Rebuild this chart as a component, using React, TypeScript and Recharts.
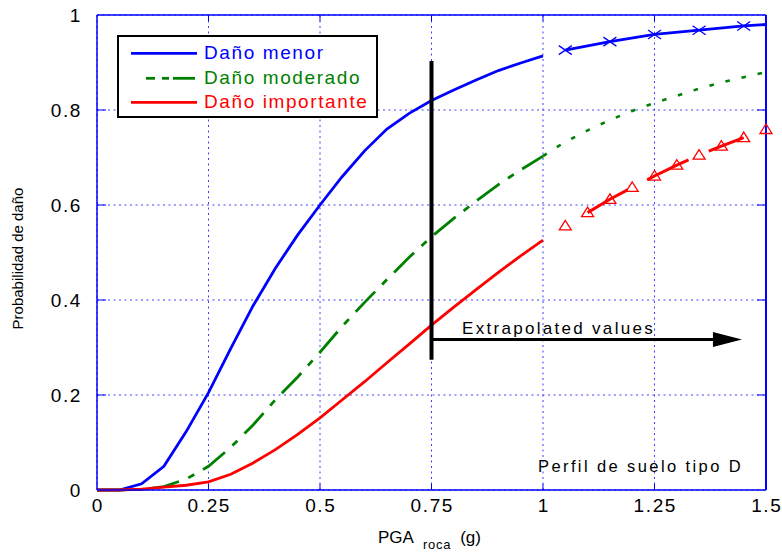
import React from 'react';
import { LineChart, Line, XAxis, YAxis, CartesianGrid, ReferenceLine, ReferenceDot } from 'recharts';

// ---- data ----
const pgaMain = [0, 0.05, 0.1, 0.15, 0.2, 0.25, 0.3, 0.35, 0.4, 0.45, 0.5, 0.55, 0.6, 0.65, 0.7, 0.75, 0.8, 0.85, 0.9, 0.95, 1.0];
const danoMenor = [0, 0, 0.013, 0.05, 0.123, 0.205, 0.298, 0.388, 0.467, 0.537, 0.6, 0.66, 0.714, 0.76, 0.793, 0.82, 0.842, 0.863, 0.883, 0.899, 0.914];
const danoModerado = [0, 0, 0.001, 0.007, 0.023, 0.05, 0.09, 0.137, 0.19, 0.238, 0.29, 0.345, 0.395, 0.443, 0.49, 0.533, 0.572, 0.608, 0.643, 0.674, 0.703];
const danoImportante = [0, 0, 0.002, 0.006, 0.01, 0.017, 0.033, 0.057, 0.085, 0.117, 0.152, 0.19, 0.228, 0.268, 0.307, 0.347, 0.385, 0.422, 0.458, 0.493, 0.526];

const pgaMenorExt = [1.05, 1.15, 1.25, 1.35, 1.45, 1.5];
const menorExt = [0.926, 0.944, 0.959, 0.968, 0.977, 0.98];
const pgaMenorMarks = [1.05, 1.15, 1.25, 1.35, 1.45];
const menorMarks = [0.926, 0.944, 0.959, 0.968, 0.977];

const pgaModExt = [1.0, 1.05, 1.1, 1.15, 1.2, 1.25, 1.3, 1.35, 1.4, 1.45, 1.5];
const moderadoExt = [0.703, 0.733, 0.757, 0.779, 0.798, 0.815, 0.83, 0.845, 0.858, 0.869, 0.88];

const pgaImpMarks = [1.05, 1.1, 1.15, 1.2, 1.25, 1.3, 1.35, 1.4, 1.45, 1.5];
const importanteMarks = [0.556, 0.584, 0.612, 0.637, 0.661, 0.684, 0.705, 0.724, 0.742, 0.759];
const pgaImpLine = [1.1, 1.15, 1.2, 1.25, 1.3, 1.35, 1.4, 1.45];
const importanteLine = [0.584, 0.612, 0.637, 0.661, 0.684, 0.705, 0.724, 0.742];

const xTicks = [0, 0.25, 0.5, 0.75, 1, 1.25, 1.5];
const yTicks = [0, 0.2, 0.4, 0.6, 0.8, 1];
const xInner = [0.25, 0.5, 0.75, 1, 1.25];
const yInner = [0.2, 0.4, 0.6, 0.8];

const legendItems = ['Daño menor', 'Daño moderado', 'Daño importante'];

const rows = (xs: number[], ys: number[]) => xs.map((x, i) => ({ x, y: ys[i] }));

const BLUE = '#0000ff';
const GREEN = '#008000';
const RED = '#ff0000';
const FONT = '"Liberation Sans", Arial, sans-serif';

const XTick = (p: any) => (
  <text x={p.x + 0.8} y={p.y} dy={13.5} textAnchor="middle" fontSize={19} fontFamily={FONT} letterSpacing={1.6} fill="#000">
    {String(p.payload.value)}
  </text>
);
const YTick = (p: any) => (
  <text x={p.x} y={p.y} dy={6.7} textAnchor="end" fontSize={19} fontFamily={FONT} letterSpacing={1.6} fill="#000">
    {String(p.payload.value)}
  </text>
);

const Cross = (p: any) => {
  const { cx, cy } = p;
  return (
    <g>
      <line x1={cx - 6.5} y1={cy - 4.5} x2={cx + 6.5} y2={cy + 4.5} stroke={BLUE} strokeWidth={1.3} />
      <line x1={cx - 6.5} y1={cy + 4.5} x2={cx + 6.5} y2={cy - 4.5} stroke={BLUE} strokeWidth={1.3} />
    </g>
  );
};
const Tri = (p: any) => {
  const { cx, cy } = p;
  return <polygon points={`${cx},${cy - 5.5} ${cx - 6},${cy + 4} ${cx + 6},${cy + 4}`} fill="none" stroke={RED} strokeWidth={1.3} />;
};
const ArrowHead = (p: any) => {
  const { cx, cy } = p;
  return <polygon points={`${cx},${cy} ${cx - 29},${cy - 7.5} ${cx - 29},${cy + 7.5}`} fill="#000" />;
};

export default function App() {
  const tickLenY = 0.0135;
  const tickLenX = 0.013;
  return (
    <div style={{ position: 'absolute', left: 0, top: 0, width: 782, height: 552, background: '#fff', fontFamily: FONT }}>
      <LineChart width={782} height={552} margin={{ top: 15, right: 16, bottom: 0, left: 0 }}>
        <CartesianGrid stroke={BLUE} strokeOpacity={0.75} strokeDasharray="2 3.5" />
        <XAxis
          type="number"
          dataKey="x"
          domain={[0, 1.5]}
          ticks={xTicks}
          height={62}
          tickSize={0}
          tickMargin={8}
          tickLine={false}
          axisLine={{ stroke: BLUE, strokeWidth: 1.5 }}
          tick={<XTick />}
          interval={0}
        />
        <YAxis
          type="number"
          domain={[0, 1]}
          ticks={yTicks}
          width={97}
          tickSize={0}
          tickMargin={15}
          tickLine={false}
          axisLine={{ stroke: BLUE, strokeWidth: 1.5 }}
          tick={<YTick />}
          interval={0}
        />
        <ReferenceLine y={1} stroke={BLUE} strokeWidth={1.5} />
        <ReferenceLine x={1.5} stroke={BLUE} strokeWidth={2} />
        {xInner.map((t) => (
          <ReferenceLine key={'xb' + t} segment={[{ x: t, y: 0 }, { x: t, y: tickLenX }]} stroke={BLUE} strokeWidth={1} />
        ))}
        {xInner.map((t) => (
          <ReferenceLine key={'xt' + t} segment={[{ x: t, y: 1 }, { x: t, y: 1 - tickLenX }]} stroke={BLUE} strokeWidth={1} />
        ))}
        {yInner.map((t) => (
          <ReferenceLine key={'yl' + t} segment={[{ x: 0, y: t }, { x: tickLenY * 1.5, y: t }]} stroke={BLUE} strokeWidth={1} />
        ))}
        {yInner.map((t) => (
          <ReferenceLine key={'yr' + t} segment={[{ x: 1.5, y: t }, { x: 1.5 - tickLenY * 1.5, y: t }]} stroke={BLUE} strokeWidth={1} />
        ))}

        <Line data={rows(pgaMain, danoMenor)} dataKey="y" type="linear" stroke={BLUE} strokeWidth={2.8} dot={false} isAnimationActive={false} />
        <Line data={rows(pgaMain, danoModerado)} dataKey="y" type="linear" stroke={GREEN} strokeWidth={2.8} strokeDasharray="28 10 7 10" dot={false} isAnimationActive={false} />
        <Line data={rows(pgaMain, danoImportante)} dataKey="y" type="linear" stroke={RED} strokeWidth={2.8} dot={false} isAnimationActive={false} />

        <Line data={rows(pgaMenorExt, menorExt)} dataKey="y" type="linear" stroke={BLUE} strokeWidth={2.8} dot={false} isAnimationActive={false} />
        <Line data={rows(pgaMenorMarks, menorMarks)} dataKey="y" stroke="none" isAnimationActive={false}
          dot={(p: any) => <Cross key={'c' + p.index} {...p} />} />
        <Line data={rows(pgaModExt, moderadoExt)} dataKey="y" type="linear" stroke={GREEN} strokeWidth={2.6} strokeDasharray="4.5 12" dot={false} isAnimationActive={false} />
        <Line data={rows(pgaImpLine, importanteLine)} dataKey="y" type="linear" stroke={RED} strokeWidth={3} strokeDasharray="46 22" dot={false} isAnimationActive={false} />
        <Line data={rows(pgaImpMarks, importanteMarks)} dataKey="y" stroke="none" isAnimationActive={false}
          dot={(p: any) => <Tri key={'t' + p.index} {...p} />} />

        <ReferenceLine segment={[{ x: 0.75, y: 0.274 }, { x: 0.75, y: 0.903 }]} stroke="#000" strokeWidth={4} />
        <ReferenceLine segment={[{ x: 0.75, y: 0.3168 }, { x: 1.39, y: 0.3168 }]} stroke="#000" strokeWidth={3.2} />
        <ReferenceDot x={1.446} y={0.3168} r={1} shape={<ArrowHead />} />
      </LineChart>

      {/* legend */}
      <div style={{ position: 'absolute', left: 117, top: 35, width: 261, height: 83, boxSizing: 'border-box', border: '2px solid #000', background: '#fff' }}>
        <svg width={80} height={80} style={{ position: 'absolute', left: 0, top: 0 }}>
          <line x1={12} x2={78} y1={16.3} y2={16.3} stroke={BLUE} strokeWidth={2.8} />
          <line x1={27} x2={36} y1={41.3} y2={41.3} stroke={GREEN} strokeWidth={2.8} />
          <line x1={43} x2={50} y1={41.3} y2={41.3} stroke={GREEN} strokeWidth={2.8} />
          <line x1={54} x2={76} y1={41.3} y2={41.3} stroke={GREEN} strokeWidth={2.8} />
          <line x1={12} x2={78} y1={65.3} y2={65.3} stroke={RED} strokeWidth={2.8} />
        </svg>
        {legendItems.map((t, i) => (
          <div key={t} style={{ position: 'absolute', left: 85, top: [22.3, 47.3, 70.7][i] - 16.1, fontSize: 19, lineHeight: '19px', letterSpacing: 1.6, whiteSpace: 'nowrap', color: [BLUE, GREEN, RED][i] }}>
            {t}
          </div>
        ))}
      </div>

      <div style={{ position: 'absolute', left: 462, top: 334.3 - 14.4, fontSize: 17, lineHeight: '17px', letterSpacing: 2.3, whiteSpace: 'nowrap', color: '#000' }}>
        Extrapolated values
      </div>
      <div style={{ position: 'absolute', left: 538, top: 471.7 - 14.0, fontSize: 16.5, lineHeight: '16.5px', letterSpacing: 2.4, whiteSpace: 'nowrap', color: '#000' }}>
        Perfil de suelo tipo D
      </div>
      <div style={{ position: 'absolute', left: 378, top: 543 - 14.4, fontSize: 17, lineHeight: '17px', whiteSpace: 'nowrap', color: '#000' }}>
        PGA<span style={{ fontSize: 13, position: 'relative', top: 6, marginLeft: 9, letterSpacing: 0.8 }}>roca</span>
        <span style={{ marginLeft: 4 }}> (g)</span>
      </div>
      <div style={{ position: 'absolute', left: 17 - 100, top: 258 - 7.5, width: 200, fontSize: 15, lineHeight: '15px', textAlign: 'center', transform: 'rotate(-90deg)', whiteSpace: 'nowrap', color: '#000' }}>
        Probabilidad de daño
      </div>
    </div>
  );
}
